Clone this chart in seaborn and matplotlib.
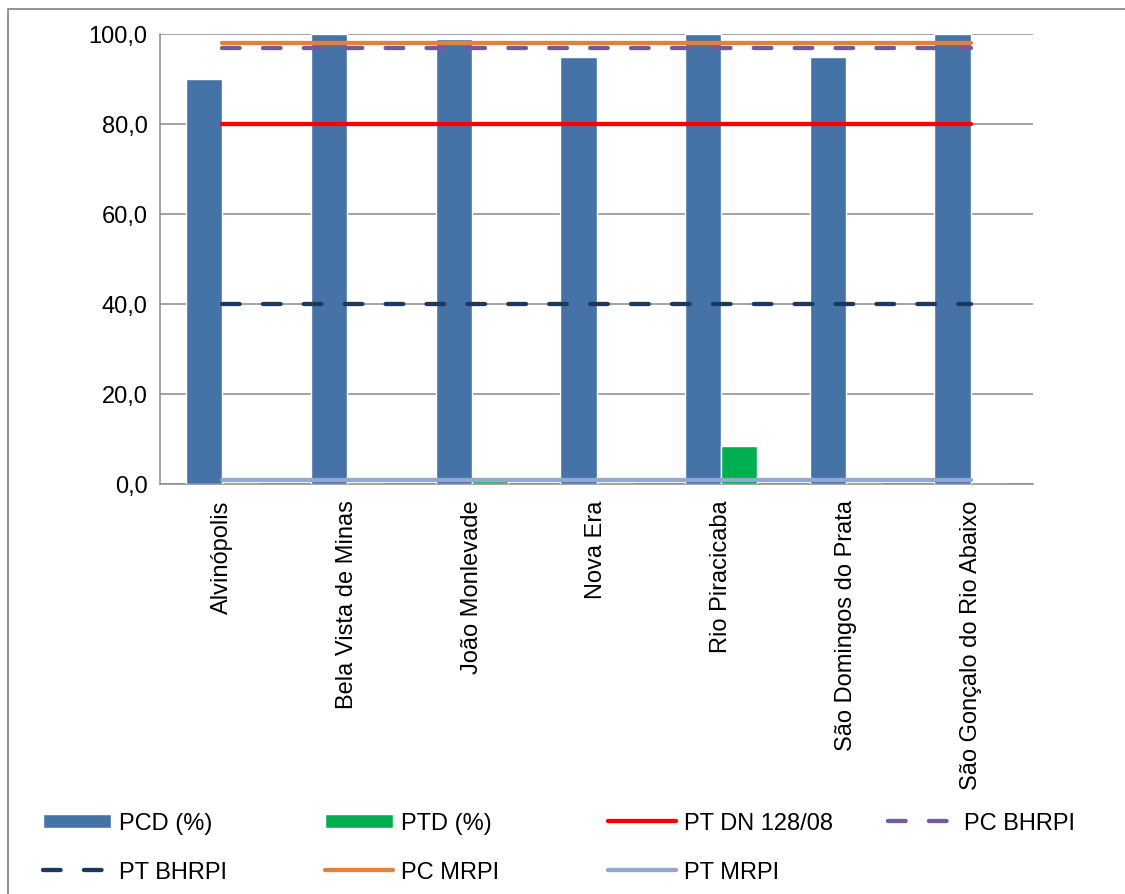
import numpy as np
import pandas as pd
import matplotlib
matplotlib.use("Agg")
import matplotlib.pyplot as plt
from matplotlib.patches import Patch
from matplotlib.lines import Line2D
import seaborn as sns

# ---- data ----
municipios = [
    "Alvinópolis",
    "Bela Vista de Minas",
    "João Monlevade",
    "Nova Era",
    "Rio Piracicaba",
    "São Domingos do Prata",
    "São Gonçalo do Rio Abaixo",
]
pcd = [90.0, 100.0, 99.0, 95.0, 100.0, 95.0, 100.0]
ptd = [0.0, 0.0, 0.6, 0.0, 8.4, 0.0, 0.0]

pt_dn_128_08 = 80.0
pc_bhrpi = 97.0
pt_bhrpi = 40.0
pc_mrpi = 98.0
pt_mrpi = 1.0

yticks = [0, 20, 40, 60, 80, 100]
ytick_labels = ["0,0", "20,0", "40,0", "60,0", "80,0", "100,0"]

# ---- style ----
sns.set_style("white")
plt.rcParams["font.family"] = ["Liberation Sans", "DejaVu Sans"]
plt.rcParams["text.color"] = "black"
plt.rcParams["xtick.labelcolor"] = "black"
plt.rcParams["ytick.labelcolor"] = "black"

C_PCD = "#4573A8"
C_PTD = "#00B050"
C_RED = "#FF0000"
C_PURPLE = "#735A99"
C_NAVY = "#1C3A5E"
C_ORANGE = "#E2823A"
C_LIGHT = "#91A8D0"
C_GRID = "#8A8A8A"

W, H = 1125, 895
fig = plt.figure(figsize=(W / 100, H / 100), dpi=100)
ax = fig.add_axes([160 / W, 1 - 485 / H, (1033 - 160) / W, (485 - 35) / H])

df = pd.DataFrame({
    "municipio": municipios * 2,
    "valor": pcd + ptd,
    "serie": ["PCD (%)"] * len(municipios) + ["PTD (%)"] * len(municipios),
})
sns.barplot(data=df, x="municipio", y="valor", hue="serie",
            palette=[C_PCD, C_PTD], width=0.58, saturation=1,
            legend=False, ax=ax, zorder=2)

# reference levels drawn across the municipalities
x = np.arange(len(municipios))
n = len(municipios)
LW = 3.1
dash = (4.1, 5.4)
ax.plot(x, np.full(n, pt_dn_128_08), color=C_RED, lw=LW,
        solid_capstyle="round", zorder=3)
ax.plot(x, np.full(n, pc_bhrpi), color=C_PURPLE, lw=LW, dashes=dash,
        dash_capstyle="round", zorder=3)
ax.plot(x, np.full(n, pt_bhrpi), color=C_NAVY, lw=LW, dashes=dash,
        dash_capstyle="round", zorder=3)
ax.plot(x, np.full(n, pc_mrpi), color=C_ORANGE, lw=LW,
        solid_capstyle="round", zorder=3)
ax.plot(x, np.full(n, pt_mrpi), color=C_LIGHT, lw=LW,
        solid_capstyle="round", zorder=3)

# ---- axes ----
ax.set_xlim(-0.5, n - 0.5)
ax.set_ylim(0, 100)
ax.set_yticks(yticks)
ax.set_yticklabels(ytick_labels, fontsize=17, color="black")
ax.set_xticks(x)
ax.set_xticklabels(municipios, rotation=90, fontsize=17, va="top",
                   ha="center", color="black")
ax.set_xticks(np.arange(-0.5, n, 1.0), minor=True)
ax.tick_params(axis="x", which="major", length=0, pad=11)
ax.tick_params(axis="x", which="minor", length=5, width=1.1, color=C_GRID,
               direction="out")
ax.tick_params(axis="y", length=5, width=1.1, color=C_GRID, direction="out",
               pad=4)
ax.set_xlabel("")
ax.set_ylabel("")
ax.yaxis.grid(True, color=C_GRID, lw=1.1)
ax.xaxis.grid(False)
ax.set_axisbelow(True)
for s in ("top", "right"):
    ax.spines[s].set_visible(False)
for s in ("left", "bottom"):
    ax.spines[s].set_color(C_GRID)
    ax.spines[s].set_linewidth(1.1)
    ax.spines[s].set_zorder(1)

# ---- legend ----
entries = [
    (Patch(facecolor=C_PCD), "PCD (%)", 43, 824),
    (Patch(facecolor=C_PTD), "PTD (%)", 325, 824),
    (Line2D([], [], color=C_RED, lw=LW, solid_capstyle="round"), "PT DN 128/08", 608, 824),
    (Line2D([], [], color=C_PURPLE, lw=LW, dashes=dash, dash_capstyle="round"), "PC BHRPI", 888, 824),
    (Line2D([], [], color=C_NAVY, lw=LW, dashes=dash, dash_capstyle="round"), "PT BHRPI", 43, 873),
    (Line2D([], [], color=C_ORANGE, lw=LW, solid_capstyle="round"), "PC MRPI", 325, 873),
    (Line2D([], [], color=C_LIGHT, lw=LW, solid_capstyle="round"), "PT MRPI", 608, 873),
]
for handle, label, px, py in entries:
    fig.legend(handles=[handle], labels=[label], loc="center left",
               bbox_to_anchor=(px / W, 1 - py / H), frameon=False,
               borderpad=0, borderaxespad=0, handlelength=2.88,
               handletextpad=0.34, handleheight=0.55, fontsize=17,
               labelcolor="black")

# chart-area frame
fig.add_artist(Line2D([8 / W, 8 / W, 1.0], [0.0, 1 - 10 / H, 1 - 10 / H],
                      transform=fig.transFigure, color=C_GRID, lw=1.3))

fig.savefig("out.png", dpi=100, facecolor="white")
